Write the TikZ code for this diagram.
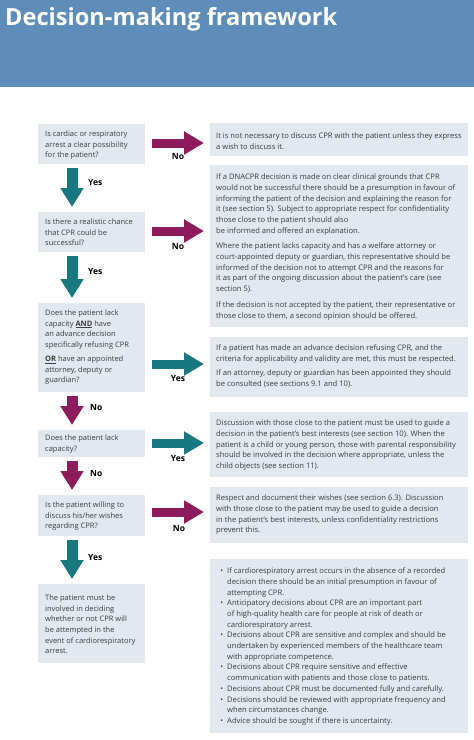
\documentclass[tikz,border=0pt]{standalone}
\usepackage{fontspec}
\setmainfont{Open Sans}
\usetikzlibrary{arrows.meta}
\definecolor{hdrblue}{HTML}{5D8DB8}
\definecolor{boxfill}{HTML}{E2E8F0}
\definecolor{arrpurple}{HTML}{8C1C5C}
\definecolor{arrteal}{HTML}{19777F}
\definecolor{txtgray}{HTML}{3C3C3C}
\newcommand{\bxt}[4][0pt]{\parbox[c][#3][t]{#2}{\vspace*{#1}\raggedright\strut#4}}
\newcommand{\bul}{\leavevmode\llap{\textbullet\hspace{4pt}}}
\tikzset{
  qbox/.style={anchor=north west, fill=boxfill, inner xsep=7pt, inner ysep=5pt, text=txtgray,
    font=\fontsize{7.5}{10.6}\selectfont},
  abox/.style={anchor=north west, fill=boxfill, inner xsep=6pt, inner ysep=6pt, text=txtgray,
    font=\fontsize{7.6}{10.7}\selectfont},
  harrow/.style={line width=9pt, -{Triangle[length=20pt,width=22pt]}, shorten <=7pt, shorten >=6pt},
  varrow/.style={line width=11pt, -{Triangle[length=19pt,width=22pt]}, shorten <=4pt, shorten >=5pt},
  lbl/.style={font=\fontsize{8.5}{10}\selectfont\bfseries, text=black, inner sep=0pt},
}
\begin{document}
\begin{tikzpicture}[x=1pt,y=-1pt]
\fill[white] (0,0) rectangle (474,740);
\useasboundingbox (0,0) rectangle (474,740);
% header
\fill[hdrblue] (0,0) rectangle (474,87);
\node[anchor=base west, inner sep=0pt, text=white, font=\fontsize{23.6}{28}\selectfont\bfseries] (title) at (5,25) {Decision-making framework};

% question boxes
\node[qbox] (q1) at (38,124) {\bxt{93pt}{30pt}{Is cardiac or respiratory\\arrest a clear possibility\\for the patient?}};
\node[qbox] (q2) at (38,212) {\bxt{93pt}{30pt}{Is there a realistic chance\\that CPR could be\\successful?}};
\node[qbox] (q3) at (38,303) {\bxt{93pt}{79pt}{Does the patient lack\\capacity \underline{\textbf{AND}} have\\an advance decision\\specifically refusing CPR\\[3.5pt]\underline{\textbf{OR}} have an appointed\\attorney, deputy or\\guardian?}};
\node[qbox, inner ysep=3pt] (q4) at (38,430) {\bxt{93pt}{21pt}{Does the patient lack\\capacity?}};
\node[qbox] (q5) at (38,495) {\bxt{93pt}{31pt}{Is the patient willing to\\discuss his/her wishes\\regarding CPR?}};
\node[qbox] (q6) at (38,584) {\bxt[4pt]{93pt}{69pt}{The patient must be\\involved in deciding\\whether or not CPR will\\be attempted in the\\event of cardiorespiratory\\arrest.}};

% answer boxes
\node[abox] (a1) at (210,123) {\bxt[2pt]{246pt}{21pt}{It is not necessary to discuss CPR with the patient unless they express\\a wish to discuss it.}};
\node[abox] (a2) at (210,165) {\bxt[1pt]{246pt}{150pt}{If a DNACPR decision is made on clear clinical grounds that CPR\\
would not be successful there should be a presumption in favour of\\
informing the patient of the decision and explaining the reason for\\
it (see section 5). Subject to appropriate respect for confidentiality\\
those close to the patient should also\\
be informed and offered an explanation.\\[5pt]
Where the patient lacks capacity and has a welfare attorney or\\
court-appointed deputy or guardian, this representative should be\\
informed of the decision not to attempt CPR and the reasons for\\
it as part of the ongoing discussion about the patient’s care (see\\
section 5).\\[5pt]
If the decision is not accepted by the patient, their representative or\\
those close to them, a second opinion should be offered.}};
\node[abox] (a3) at (210,337) {\bxt{246pt}{48pt}{If a patient has made an advance decision refusing CPR, and the\\
criteria for applicability and validity are met, this must be respected.\\[3.5pt]
If an attorney, deputy or guardian has been appointed they should\\
be consulted (see sections 9.1 and 10).}};
\node[abox] (a4) at (210,412) {\bxt{246pt}{53pt}{Discussion with those close to the patient must be used to guide a\\
decision in the patient’s best interests (see section 10). When the\\
patient is a child or young person, those with parental responsibility\\
should be involved in the decision where appropriate, unless the\\
child objects (see section 11).}};
\node[abox] (a5) at (210,487) {\bxt{246pt}{44pt}{Respect and document their wishes (see section 6.3). Discussion\\
with those close to the patient may be used to guide a decision\\
in the patient’s best interests, unless confidentiality restrictions\\
prevent this.}};
\node[abox] (a6) at (210,559) {\bxt[1pt]{246pt}{162pt}{\leftskip=11pt
\bul If cardiorespiratory arrest occurs in the absence of a recorded\\
decision there should be an initial presumption in favour of\\
attempting CPR.\\
\bul Anticipatory decisions about CPR are an important part\\
of high-quality health care for people at risk of death or\\
cardiorespiratory arrest.\\
\bul Decisions about CPR are sensitive and complex and should be\\
undertaken by experienced members of the healthcare team\\
with appropriate competence.\\
\bul Decisions about CPR require sensitive and effective\\
communication with patients and those close to patients.\\
\bul Decisions about CPR must be documented fully and carefully.\\
\bul Decisions should be reviewed with appropriate frequency and\\
when circumstances change.\\
\bul Advice should be sought if there is uncertainty.}};

% horizontal arrows
\draw[harrow, arrpurple] (q1.east |- 0,143) -- (a1.west |- 0,143);
\draw[harrow, arrpurple] (q2.east |- 0,231) -- (a2.west |- 0,231);
\draw[harrow, arrteal] (q3.east |- 0,364) -- (a3.west |- 0,364);
\draw[harrow, arrteal] (q4.east |- 0,443) -- (a4.west |- 0,443);
\draw[harrow, arrpurple] (q5.east |- 0,512) -- (a5.west |- 0,512);
\node[lbl] (n1) at (178,157) {No};
\node[lbl] (n2) at (178,247) {No};
\node[lbl] (y3) at (178,379) {Yes};
\node[lbl] (y4) at (178,458) {Yes};
\node[lbl] (n5) at (179,528) {No};

% vertical arrows
\draw[varrow, arrteal] (q1.south -| 72,0) -- (q2.north -| 72,0);
\draw[varrow, arrteal] (q2.south -| 72,0) -- (q3.north -| 72,0);
\draw[varrow, arrpurple] (q3.south -| 72,0) -- (q4.north -| 72,0);
\draw[varrow, arrpurple] (q4.south -| 72,0) -- (q5.north -| 72,0);
\draw[varrow, arrteal] (q5.south -| 72,0) -- (q6.north -| 72,0);
\node[lbl, anchor=west] (yd1) at (88,183) {Yes};
\node[lbl, anchor=west] (yd2) at (88,272) {Yes};
\node[lbl, anchor=west] (nd3) at (90,407) {No};
\node[lbl, anchor=west] (nd4) at (90,473) {No};
\node[lbl, anchor=west] (yd5) at (88,557) {Yes};
\end{tikzpicture}
\end{document}
